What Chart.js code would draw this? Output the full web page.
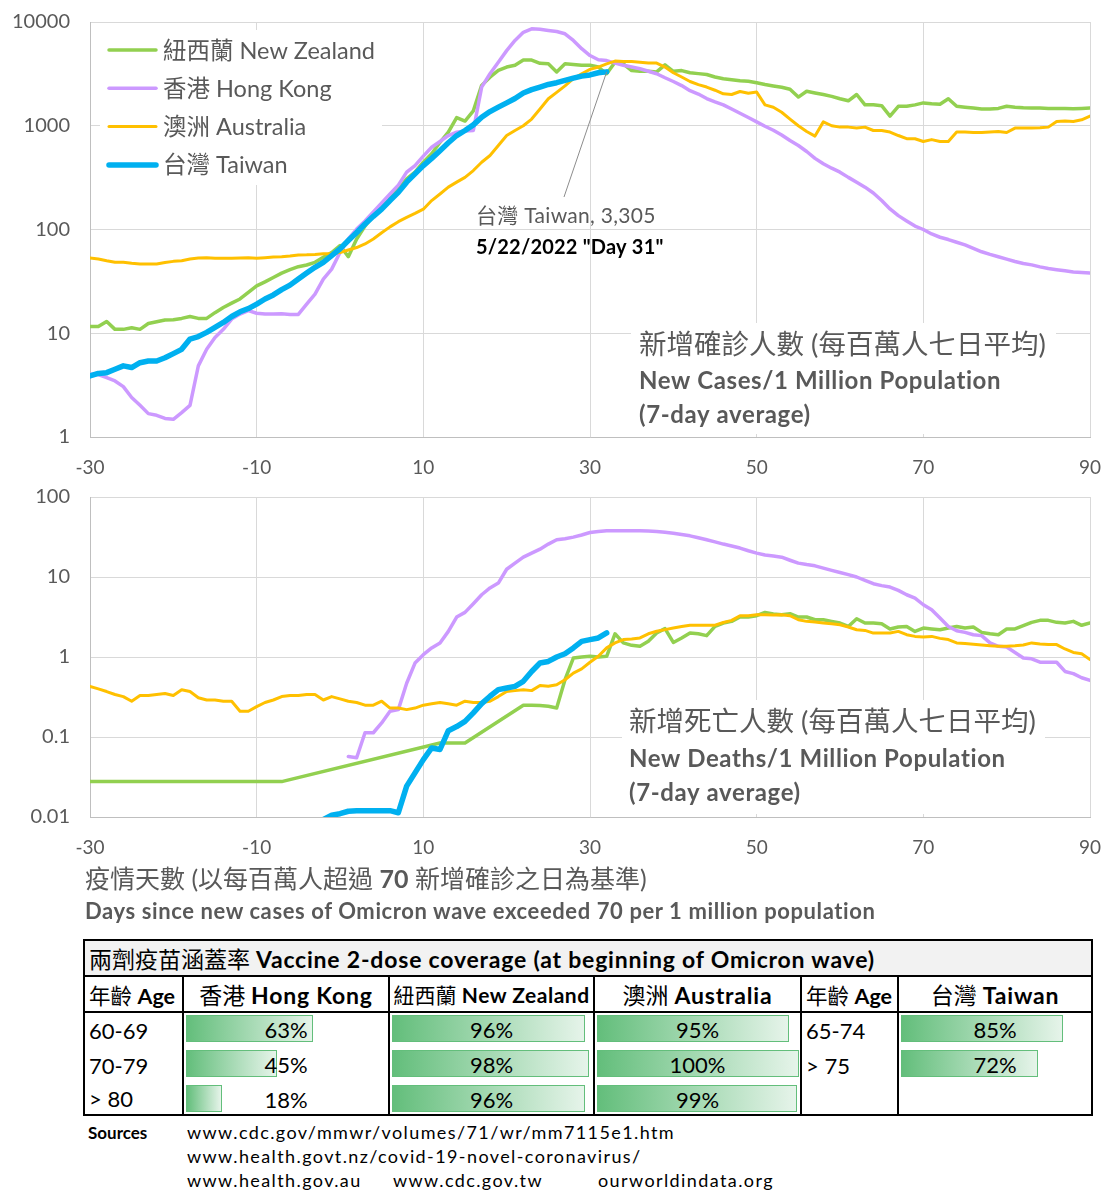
<!DOCTYPE html>
<html><head><meta charset="utf-8">
<script src="https://cdn.jsdelivr.net/npm/chart.js@4/dist/chart.umd.min.js"></script>
<style>
body{margin:0;background:#fff;width:1115px;height:1200px;position:relative;overflow:hidden;font-family:Lato,"Noto Sans CJK TC",sans-serif;}
canvas{position:absolute;left:0}
#c1{top:0}
#c2{top:480px}
.xt1{position:absolute;left:85px;top:862px;font-size:25px;color:#595959;white-space:nowrap;line-height:32px}
.xt2{position:absolute;left:85px;top:897px;font-size:22px;letter-spacing:0.6px;font-weight:bold;color:#595959;white-space:nowrap;line-height:28px}
#tbl{position:absolute;left:83px;top:939px;width:1008px;border-collapse:collapse;table-layout:fixed;color:#000}
#tbl td{padding:0;border-left:2px solid #000;border-right:2px solid #000;white-space:nowrap;overflow:hidden}
#tbl b{letter-spacing:0.8px}
#tbl tr.t td{background:#F2F2F2;border:2px solid #000;font-size:23px;padding-left:4px;height:34px}
#tbl tr.h td{border-bottom:2px solid #000;font-size:23px;height:33px;text-align:center}
#tbl tr.h td.l{text-align:left;padding-left:4px;font-size:21.5px}
#tbl tr.h td.l b{letter-spacing:0}
#tbl tr.d td{font-size:22px;height:35px;position:relative}
#tbl tr.d.last td{height:31px;border-bottom:2px solid #000}
#tbl td.age{padding-left:4px}
.bar{position:absolute;left:2px;top:2px;height:27px;box-sizing:border-box;border:1.5px solid #63BE7B;background:linear-gradient(to right,#63BE7B,#E6F4EA)}
.pct{position:absolute;left:0;right:0;top:2px;text-align:center;line-height:30px}
.src{position:absolute;font-size:18px;color:#000;white-space:nowrap;letter-spacing:1.4px}
</style></head>
<body>
<canvas id="c1" width="1115" height="485" style="width:1115px;height:485px"></canvas>
<canvas id="c2" width="1115" height="385" style="width:1115px;height:385px"></canvas>
<div class="xt1">疫情天數 (以每百萬人超過 <b>70</b> 新增確診之日為基準)</div>
<div class="xt2">Days since new cases of Omicron wave exceeded 70 per 1 million population</div>
<table id="tbl"></table>
<div class="src" style="left:88px;top:1122px;font-weight:bold;font-size:17px;letter-spacing:0">Sources</div>
<div class="src" style="left:187px;top:1121px">www.cdc.gov/mmwr/volumes/71/wr/mm7115e1.htm</div>
<div class="src" style="left:187px;top:1145px">www.health.govt.nz/covid-19-novel-coronavirus/</div>
<div class="src" style="left:187px;top:1169px">www.health.gov.au</div>
<div class="src" style="left:393px;top:1169px">www.cdc.gov.tw</div>
<div class="src" style="left:598px;top:1169px">ourworldindata.org</div>
<script>
// ---------- DATA ----------
const days = Array.from({length:121},(_,i)=>i-30); // day -30 .. 90
const xTicks = [-30,-10,10,30,50,70,90];
const casesTicks = [1,10,100,1000,10000];
const casesTickLabels = ['1','10','100','1000','10000'];
const deathsTicks = [0.01,0.1,1,10,100];
const deathsTickLabels = ['0.01','0.1','1','10','100'];

const seriesNames = ['紐西蘭 New Zealand','香港 Hong Kong','澳洲 Australia','台灣 Taiwan'];

const nzCases = [11.6,11.6,13,10.9,10.9,11.3,10.9,12.4,12.9,13.4,
13.5,13.9,14.5,13.9,13.9,15.8,17.7,19.5,21.4,24.8,
28.6,31.3,34.5,38,41,43.8,45.5,48.3,54,60,
70,54.7,81,108,135,176,211,245,307,357,
445,537,693,866,1200,1110,1390,2450,2940,3410,
3680,3830,4300,4300,4000,3950,3300,3950,3900,3830,
3830,3680,3170,4100,3950,3400,3350,3350,3300,3860,
3350,3400,3240,3180,3120,2950,2840,2780,2720,2680,
2600,2500,2420,2350,2250,1890,2150,2070,2000,1920,
1820,1740,2000,1590,1590,1560,1240,1540,1540,1590,
1660,1630,1610,1820,1540,1510,1480,1450,1450,1470,
1540,1510,1490,1480,1480,1470,1470,1470,1460,1470,
1480];
const hkCases = [4.03,4.0,3.74,3.47,3.06,2.4,2.02,1.68,1.62,1.51,
1.48,1.72,2.02,4.85,7.0,9.1,10.9,13.7,15.3,16.5,
15.6,15.3,15.3,15.4,15.2,15.2,19.1,23.8,33.3,41.5,
60,81,101,121,148,180,220,268,357,413,
510,620,705,805,866,892,900,2360,3170,4100,
5300,6640,7960,8600,8500,8300,8100,7700,6640,5530,
4750,4330,4250,4020,3830,3680,3540,3350,3170,2900,
2670,2440,2180,2020,1830,1700,1590,1450,1320,1200,
1090,990,905,815,720,645,565,485,430,390,
357,318,285,256,225,190,158,136,121,108,
100,90.6,84.2,80,75.4,71,65.8,61,57.5,54.6,
51.8,49.2,47,45.6,43.6,42,41,40,39,38.5,
38];
const auCases = [53,52,50,48.3,48.3,47.2,46.5,46.5,46.5,48,
49.3,50,52,53,53.5,52.7,52.7,52.7,53,53.5,
52.7,53.5,54.3,54.7,55.5,56.8,57,57.5,58.4,58.8,
60,63.5,67,72.5,81,93,106,119,131,143,
157,190,220,256,286,318,370,445,517,645,
805,900,1000,1160,1450,1820,2100,2420,2840,3170,
3490,3680,3950,4200,4170,4170,4100,4020,4020,3680,
3240,2950,2670,2490,2360,2200,2030,2000,2140,2060,
2110,1590,1510,1350,1160,1000,880,795,1090,1000,
970,970,950,970,900,900,870,805,750,750,
705,735,705,705,870,870,860,860,870,880,
860,950,950,950,955,970,1100,1110,1100,1140,
1240];
const twCases = [3.88,4.1,4.17,4.5,4.85,4.67,5.2,5.4,5.4,5.8,
6.36,7.0,8.8,9.3,10.2,11.4,12.7,14.5,16.1,17.3,
19.1,21.4,23.4,26.3,29.1,33.3,38,43.2,48.3,56,
65,78.3,93.5,113,134,157,190,228,286,344,
413,485,575,685,805,900,1020,1210,1370,1510,
1660,1830,2070,2230,2360,2500,2600,2740,2880,3010,
3090,3240,3305];

const nzDeaths = [0.0277,0.0277,0.0277,0.0277,0.0277,0.0277,0.0277,0.0277,0.0277,0.0277,
0.0277,0.0277,0.0277,0.0277,0.0277,0.0277,0.0277,0.0277,0.0277,0.0277,
0.0277,0.0277,0.0277,0.0277,
null,null,null,null,null,null,null,null,null,null,null,null,null,null,null,null,null,null,
0.084,0.084,0.084,0.084,
null,null,null,null,null,null,
0.25,0.25,0.247,0.242,0.231,0.52,0.97,1.0,
1.02,1.0,1.02,1.95,1.5,1.4,1.36,1.57,2.0,2.26,
1.52,1.73,2.0,1.95,1.85,2.41,2.66,2.79,3.16,3.16,
3.28,3.61,3.44,3.38,3.48,3.16,3.16,2.92,2.92,2.79,
2.66,2.41,3.01,2.66,2.66,2.61,2.24,2.37,2.41,2.09,
2.30,2.24,2.19,2.30,2.41,2.30,2.37,2.03,1.95,1.9,
2.24,2.24,2.46,2.71,2.87,2.87,2.71,2.66,2.79,2.49,
2.66];
const hkDeaths = [null,null,null,null,null,null,null,null,null,null,
null,null,null,null,null,null,null,null,null,null,
null,null,null,null,null,null,null,null,null,null,null,
0.057,0.055,0.113,0.113,0.15,0.21,0.22,0.47,0.84,
1.07,1.3,1.5,2.09,3.16,3.61,4.63,6.0,7.3,8.4,
12.5,14.9,17.7,19.9,22.3,25.8,29.2,30,31.5,33.5,
36,37,37.8,37.8,37.8,37.8,37.8,37.5,37.1,36.3,
35.3,34,32.7,31,29.2,27.5,25.8,24.4,23,21.3,
19.9,18.8,18.3,17.7,16.2,14.9,14.3,13.8,12.9,12.1,
11.4,10.7,10,9.06,8.24,7.8,7.48,6.8,6.0,5.46,
4.5,3.9,3.07,2.41,2.13,2.03,1.9,1.85,1.5,1.36,
1.33,1.14,0.97,0.95,0.86,0.86,0.86,0.66,0.62,0.55,
0.51];
const auDeaths = [0.43,0.40,0.37,0.34,0.32,0.28,0.33,0.33,0.34,0.35,
0.33,0.39,0.37,0.31,0.29,0.29,0.28,0.28,0.21,0.21,
0.24,0.27,0.29,0.32,0.33,0.33,0.34,0.34,0.29,0.32,
0.30,0.28,0.27,0.25,0.25,0.28,0.23,0.23,0.22,0.23,
0.25,0.26,0.27,0.26,0.25,0.28,0.27,0.27,0.28,0.32,
0.37,0.38,0.39,0.38,0.44,0.43,0.45,0.52,0.63,0.71,
0.86,1.02,1.3,1.5,1.65,1.68,1.73,1.95,2.1,2.2,
2.3,2.4,2.5,2.5,2.5,2.5,2.7,2.87,3.28,3.28,
3.38,3.38,3.34,3.38,3.28,2.92,2.79,2.73,2.66,2.6,
2.53,2.37,2.19,2.15,1.99,1.99,1.99,2.09,1.9,1.81,
1.78,1.81,1.71,1.65,1.5,1.47,1.44,1.41,1.38,1.36,
1.36,1.38,1.41,1.5,1.45,1.43,1.43,1.26,1.14,1.1,
0.93];
const twDeaths = [null,null,null,null,null,null,null,null,null,null,
null,null,null,null,null,null,null,null,null,null,
null,null,null,null,null,null,null,null,
0.0093,0.0105,0.011,0.0118,0.012,0.012,0.012,0.012,0.012,0.0113,0.0243,0.0356,
0.0522,0.073,0.0698,0.12,0.135,0.157,0.2,0.261,0.323,0.391,
0.41,0.43,0.497,0.66,0.84,0.88,1.0,1.1,1.3,1.57,
1.65,1.73,2.0];

// vaccine table
const tableTitleZh = '兩劑疫苗涵蓋率';
const tableTitleEn = 'Vaccine 2-dose coverage (at beginning of Omicron wave)';
const ageGroups = ['60-69','70-79','> 80'];
const hkCoverage = [63,45,18];
const nzCoverage = [96,98,96];
const auCoverage = [95,100,99];
const twAgeGroups = ['65-74','> 75'];
const twCoverage = [85,72];

// ---------- STYLE ----------
const FONT = 'Lato, "Noto Sans CJK TC", sans-serif';
const colors = ['#92D050','#CC99FF','#FFC000','#00B0F0'];
const widths = [3.5,3.5,3,5.5];
const orders = [3,2,1,0];

function pts(arr){ return days.map((d,i)=>({x:d, y:(arr[i]===undefined?null:arr[i])})); }
function makeDatasets(arrs){
  return arrs.map((a,i)=>({label:seriesNames[i], data:pts(a), borderColor:colors[i], backgroundColor:colors[i],
    borderWidth:widths[i], pointRadius:0, pointHoverRadius:0, tension:0, spanGaps:true, order:orders[i], borderJoinStyle:'round', borderCapStyle:'round', fill:false}));
}
function scalesCfg(yMin,yMax,yT,yL){
  return {
    x:{type:'linear',min:-30,max:90,
      afterBuildTicks:a=>{a.ticks=xTicks.map(v=>({value:v}));},
      afterFit:a=>{a.height=48; a.paddingLeft=0; a.paddingRight=0;},
      grid:{color:'#D9D9D9',lineWidth:1,drawTicks:false},
      border:{color:'#BFBFBF',width:1},
      ticks:{padding:19,color:'#595959',font:{size:19,family:FONT},maxRotation:0,autoSkip:false,callback:v=>String(v)}},
    y:{type:'logarithmic',min:yMin,max:yMax,
      afterBuildTicks:a=>{a.ticks=yT.map(v=>({value:v}));},
      afterFit:a=>{a.width=90; a.paddingTop=0; a.paddingBottom=0;},
      grid:{color:'#D9D9D9',lineWidth:1,drawTicks:false},
      border:{color:'#BFBFBF',width:1},
      ticks:{padding:20,color:'#595959',font:{size:20,family:FONT},autoSkip:false,callback:(v,i)=>yL[i]}}
  };
}
function textLines(ctx, lines){
  ctx.textBaseline='middle'; ctx.textAlign='left';
  for(const l of lines){ ctx.font=l.font; ctx.fillStyle=l.color; ctx.letterSpacing=(l.ls||0)+'px'; ctx.fillText(l.text,l.x,l.y); }
  ctx.letterSpacing='0px';
}

const casesPlugin = {
  id:'casesOverlay',
  beforeDatasetsDraw(chart){
    const ctx=chart.ctx; ctx.save(); ctx.fillStyle='#fff';
    ctx.fillRect(100,30,282,155);
    ctx.fillRect(631,323,425,111);
    ctx.restore();
  },
  afterDatasetsDraw(chart){
    const ctx=chart.ctx; ctx.save();
    // legend
    chart.data.datasets.forEach((ds,i)=>{
      const y=50+i*38.3;
      ctx.strokeStyle=ds.borderColor; ctx.lineWidth=ds.borderWidth; ctx.lineCap='round';
      ctx.beginPath(); ctx.moveTo(109,y); ctx.lineTo(156,y); ctx.stroke();
      textLines(ctx,[{text:ds.label,x:163,y:y+1,font:'23.5px '+FONT,color:'#595959'}]);
    });
    // annotation for Taiwan last point
    const xs=chart.scales.x, ys=chart.scales.y;
    const li=twCases.length-1;
    const px=xs.getPixelForValue(days[li]), py=ys.getPixelForValue(twCases[li]);
    ctx.strokeStyle='#8C8C8C'; ctx.lineWidth=1; ctx.lineCap='butt';
    ctx.beginPath(); ctx.moveTo(px,py); ctx.lineTo(564,197); ctx.stroke();
    textLines(ctx,[
      {text:'台灣 Taiwan, 3,305',x:476,y:216,font:'21px '+FONT,color:'#595959',ls:0.3},
      {text:'5/22/2022 "Day 31"',x:476,y:248,font:'bold 20px '+FONT,color:'#000',ls:0.2},
      {text:'新增確診人數 (每百萬人七日平均)',x:639,y:345,font:'27.5px '+FONT,color:'#595959'},
      {text:'New Cases/1 Million Population',x:639,y:381,font:'bold 24px '+FONT,color:'#595959',ls:0.6},
      {text:'(7-day average)',x:639,y:415,font:'bold 24px '+FONT,color:'#595959',ls:0.6}
    ]);
    ctx.restore();
  }
};
const deathsPlugin = {
  id:'deathsOverlay',
  beforeDatasetsDraw(chart){
    const ctx=chart.ctx; ctx.save(); ctx.fillStyle='#fff';
    ctx.fillRect(622,220,423,114);
    ctx.restore();
  },
  afterDatasetsDraw(chart){
    const ctx=chart.ctx; ctx.save();
    textLines(ctx,[
      {text:'新增死亡人數 (每百萬人七日平均)',x:629,y:242,font:'27.5px '+FONT,color:'#595959'},
      {text:'New Deaths/1 Million Population',x:629,y:279,font:'bold 24px '+FONT,color:'#595959',ls:0.6},
      {text:'(7-day average)',x:629,y:313,font:'bold 24px '+FONT,color:'#595959',ls:0.6}
    ]);
    ctx.restore();
  }
};

function build(){
  new Chart(document.getElementById('c1'),{
    type:'line',
    data:{datasets:makeDatasets([nzCases,hkCases,auCases,twCases])},
    options:{responsive:false,animation:false,devicePixelRatio:1,
      layout:{padding:{left:0,right:25,top:22,bottom:0}},
      plugins:{legend:{display:false},tooltip:{enabled:false}},
      scales:scalesCfg(1,10000,casesTicks,casesTickLabels)},
    plugins:[casesPlugin]
  });
  new Chart(document.getElementById('c2'),{
    type:'line',
    data:{datasets:makeDatasets([nzDeaths,hkDeaths,auDeaths,twDeaths])},
    options:{responsive:false,animation:false,devicePixelRatio:1,
      layout:{padding:{left:0,right:25,top:17,bottom:0}},
      plugins:{legend:{display:false},tooltip:{enabled:false}},
      scales:scalesCfg(0.01,100,deathsTicks,deathsTickLabels)},
    plugins:[deathsPlugin]
  });

  // table
  const colW=[99,206,205,207,97,194];
  const barFull=[0,202,201,202,0,190];
  const bar=(v,i)=>v==null?'':`<div class="bar" style="width:${Math.round(barFull[i]*v/100)}px"></div><div class="pct">${v}%</div>`;
  let h='<colgroup>'+colW.map(w=>`<col style="width:${w}px">`).join('')+'</colgroup>';
  h+=`<tr class="t"><td colspan="6">${tableTitleZh} <b>${tableTitleEn}</b></td></tr>`;
  h+=`<tr class="h"><td class="l">年齡 <b>Age</b></td><td>香港 <b>Hong Kong</b></td><td style="font-size:21px">紐西蘭 <b style="letter-spacing:0.5px">New Zealand</b></td><td>澳洲 <b>Australia</b></td><td class="l">年齡 <b>Age</b></td><td>台灣 <b>Taiwan</b></td></tr>`;
  for(let r=0;r<ageGroups.length;r++){
    h+=`<tr class="d${r===ageGroups.length-1?' last':''}"><td class="age">${ageGroups[r]}</td><td>${bar(hkCoverage[r],1)}</td><td>${bar(nzCoverage[r],2)}</td><td>${bar(auCoverage[r],3)}</td><td class="age">${twAgeGroups[r]||''}</td><td>${bar(twCoverage[r],5)}</td></tr>`;
  }
  document.getElementById('tbl').innerHTML=h;
}
window.addEventListener('load',build);
</script>
</body></html>
